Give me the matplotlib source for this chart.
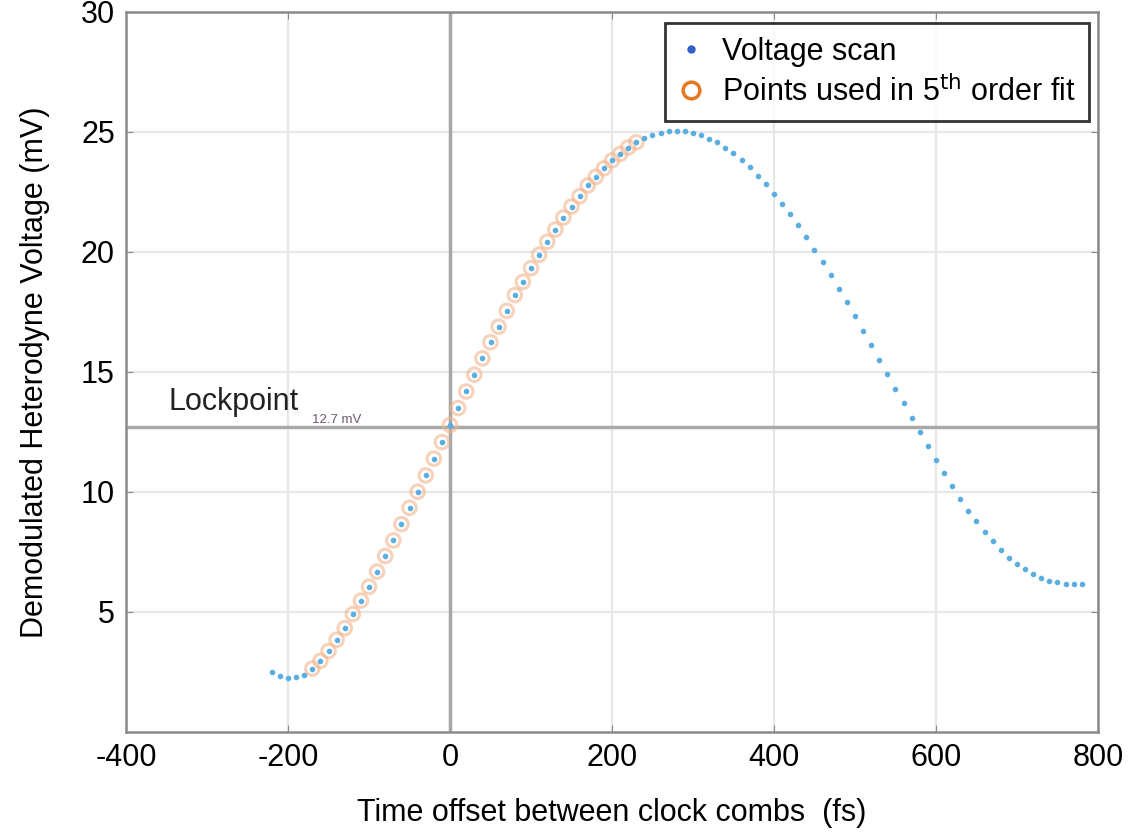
import numpy as np
import matplotlib
matplotlib.use("Agg")
import matplotlib.pyplot as plt
from matplotlib.lines import Line2D

plt.rcParams.update({"font.family": ["Liberation Sans", "DejaVu Sans"],
                     "axes.unicode_minus": False})

# scan time offsets (fs)
time_fs = [
    -220, -210, -200, -190, -180, -170, -160, -150, -140, -130,
    -120, -110, -100, -90, -80, -70, -60, -50, -40, -30,
    -20, -10, 0, 10, 20, 30, 40, 50, 60, 70,
    80, 90, 100, 110, 120, 130, 140, 150, 160, 170,
    180, 190, 200, 210, 220, 230, 240, 250, 260, 270,
    280, 290, 300, 310, 320, 330, 340, 350, 360, 370,
    380, 390, 400, 410, 420, 430, 440, 450, 460, 470,
    480, 490, 500, 510, 520, 530, 540, 550, 560, 570,
    580, 590, 600, 610, 620, 630, 640, 650, 660, 670,
    680, 690, 700, 710, 720, 730, 740, 750, 760, 770,
    780,
]
# demodulated heterodyne voltage (mV)
voltage_mv = [
    2.47, 2.32, 2.25, 2.27, 2.38, 2.63, 2.95, 3.36, 3.83, 4.31,
    4.90, 5.46, 6.04, 6.67, 7.32, 7.97, 8.65, 9.33, 10.00, 10.68,
    11.38, 12.07, 12.78, 13.49, 14.18, 14.88, 15.56, 16.23, 16.88, 17.54,
    18.20, 18.75, 19.32, 19.88, 20.42, 20.93, 21.43, 21.89, 22.32, 22.77,
    23.13, 23.48, 23.81, 24.08, 24.35, 24.57, 24.75, 24.86, 24.96, 25.02,
    25.03, 25.02, 24.96, 24.86, 24.71, 24.56, 24.35, 24.11, 23.83, 23.53,
    23.18, 22.82, 22.43, 21.99, 21.56, 21.10, 20.60, 20.07, 19.56, 19.03,
    18.47, 17.93, 17.32, 16.71, 16.11, 15.50, 14.90, 14.28, 13.70, 13.07,
    12.49, 11.90, 11.32, 10.77, 10.24, 9.70, 9.18, 8.77, 8.33, 7.93,
    7.57, 7.22, 6.97, 6.77, 6.56, 6.40, 6.29, 6.23, 6.17, 6.15,
    6.15,
]
FIT_START, FIT_END = -170, 230   # points used in 5th order fit
LOCKPOINT = 12.7

x = np.array(time_fs, dtype=float)
y = np.array(voltage_mv)
fit = (x >= FIT_START) & (x <= FIT_END)

fig = plt.figure(figsize=(11.48, 8.39), dpi=100)
ax = fig.add_axes([0.1098, 0.128, 0.8466, 0.8577])

ax.set_xlim(-400, 800)
ax.set_ylim(0, 30)
ax.set_xticks([-400, -200, 0, 200, 400, 600, 800])
ax.set_yticks([5, 10, 15, 20, 25, 30])
ax.grid(True, color="#e6e6e6", lw=1.5)
ax.set_axisbelow(True)

# reference lines
ax.axvline(0, color="#a8a8a8", lw=2.5, zorder=1)
ax.axhline(LOCKPOINT, color="#a8a8a8", lw=2.5, zorder=1)

ax.scatter(x[fit], y[fit], s=95, facecolors="none", edgecolors="#f2b48c",
           linewidths=2.2, alpha=0.6, zorder=2)
ax.scatter(x, y, s=9, color="#5aaee0", zorder=3)

ax.text(-348, 13.4, "Lockpoint", fontsize=22, color="#222222")
ax.text(-170, 12.85, "12.7 mV", fontsize=9.5, color="#6a5a70")

for s in ax.spines.values():
    s.set_color("#8a8a8a")
    s.set_linewidth(1.8)
ax.tick_params(direction="in", length=5, color="#8a8a8a", labelsize=22,
               pad=8, top=True, right=True)

ax.set_ylabel("Demodulated Heterodyne Voltage (mV)", fontsize=22, labelpad=22)
ax.set_xlabel("Time offset between clock combs  (fs)", fontsize=22, labelpad=18)

handles = [
    Line2D([], [], ls="none", marker="o", ms=5, color="#3060c8"),
    Line2D([], [], ls="none", marker="o", ms=12, mfc="none", mec="#e87722", mew=2.5),
]
leg = ax.legend(handles, ["Voltage scan", "Points used in 5$^{\\mathrm{th}}$ order fit"],
                loc="upper right", bbox_to_anchor=(0.9912, 0.985), fontsize=22,
                frameon=True, fancybox=False, handlelength=0.8, handletextpad=0.6,
                borderpad=0.45, labelspacing=0.3, borderaxespad=0.0)
leg.get_frame().set_edgecolor("black")
leg.get_frame().set_linewidth(2)

fig.savefig("out.png", dpi=100)
